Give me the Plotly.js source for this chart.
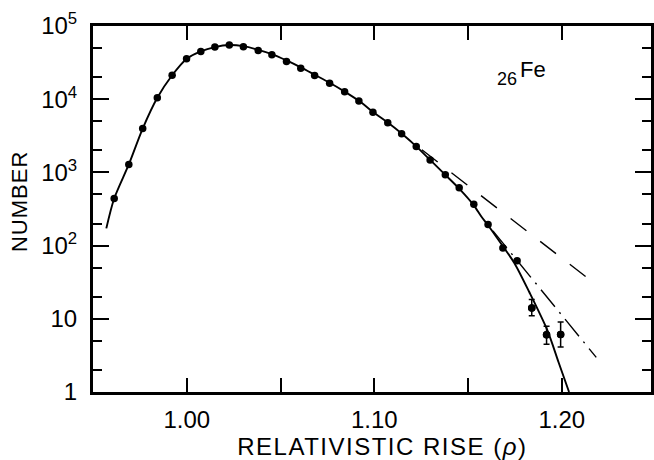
<!DOCTYPE html>
<html>
<head>
<meta charset="utf-8">
<script src="https://cdn.plot.ly/plotly-3.0.1.min.js"></script>
<style>
html,body{margin:0;padding:0;background:#fff;}
#chart{width:654px;height:460px;}
#chart g.annotation[data-index="0"] text{letter-spacing:1px;}
#chart g.annotation[data-index="1"] text{letter-spacing:1.5px;}
</style>
</head>
<body>
<div id="chart"></div>
<script>
// Measured points (relativistic rise rho, number of events)
const rho = [0.9613,0.9691,0.9765,0.9843,0.9922,0.9999,1.0075,1.0150,1.0227,1.0302,1.0381,1.0454,1.0532,1.0608,1.0682,1.0762,1.0842,1.0918,1.0993,1.1072,1.1146,1.1224,1.1298,1.1379,1.1453,1.1531,1.1607,1.1686,1.1762,1.1840,1.1919,1.1994];
const counts = [440,1285,3970,10450,21250,35700,44700,51500,55200,52000,46200,40600,32700,26400,21100,16500,12600,9460,6610,4750,3380,2260,1480,927,615,366,194,93,62,14.1,6.07,6.12];
const errUp = [0,0,0,0,0,0,0,0,0,0,0,0,0,0,0,0,0,0,0,0,0,0,0,0,0,0,0,0,0,4.2,1.83,2.9];
const errDown = [0,0,0,0,0,0,0,0,0,0,0,0,0,0,0,0,0,0,0,0,0,0,0,0,0,0,0,0,0,3.1,1.58,2.0];

// Solid fitted curve
const fitRho = [0.9571,0.9613,0.9691,0.9765,0.9843,0.9922,0.9999,1.0075,1.0150,1.0227,1.0302,1.0381,1.0454,1.0532,1.0608,1.0682,1.0762,1.0842,1.0918,1.0993,1.1072,1.1146,1.1224,1.1298,1.1379,1.1453,1.1531,1.1571,1.1607,1.1686,1.1747,1.1826,1.1923,1.1983,1.2039];
const fitCounts = [172,440,1285,3970,10450,21250,35500,45000,51500,55000,53000,47300,41300,33800,27200,21600,16800,12700,9500,6700,4800,3400,2270,1480,925,600,355,250,190,98,58,23.4,7.0,2.55,1.0];

// Dashed extrapolation
const dashRho = [1.1254,1.2129];
const dashCounts = [2035,37.5];

// Dash-dot extrapolation
const dotRho = [1.1633,1.2184];
const dotCounts = [159,2.97];

// Axis ticks
const yTickVals = [1,10,100,1000,10000,100000];
const yTickText = ["1","10","10<sup>2</sup>","10<sup>3</sup>","10<sup>4</sup>","10<sup>5</sup>"];
const yMinorVals = [2,5,20,50,200,500,2000,5000,20000,50000];
const xTickVals = [1.00,1.10,1.20];
const xTickText = ["1.00","1.10","1.20"];
const xMinorVals = [1.05,1.15];

const FONT = "Liberation Sans, Arial, Helvetica, sans-serif";

const errIdx = errUp.map((e,i)=> (e>0||errDown[i]>0) ? i : -1).filter(i=>i>=0);

const traces = [
  {x: fitRho, y: fitCounts, mode:'lines', line:{color:'#000', width:1.9, shape:'spline', smoothing:0.8}, hoverinfo:'skip'},
  {x: dashRho, y: dashCounts, mode:'lines', line:{color:'#000', width:1.4, dash:'20px,17.4px'}, hoverinfo:'skip'},
  {x: dotRho, y: dotCounts, mode:'lines', line:{color:'#000', width:1.4, dash:'22px,7px,2px,7px'}, hoverinfo:'skip'},
  {x: rho, y: counts, mode:'markers', marker:{color:'#000', size:7.5}, hoverinfo:'skip'},
  {x: errIdx.map(i=>rho[i]), y: errIdx.map(i=>counts[i]), mode:'markers',
   marker:{color:'#000', size:7.5},
   error_y:{type:'data', symmetric:false, array: errIdx.map(i=>errUp[i]), arrayminus: errIdx.map(i=>errDown[i]), color:'#000', thickness:1.5, width:3},
   hoverinfo:'skip'}
];

const layout = {
  width:654, height:460,
  margin:{l:93, r:3, t:26, b:68},
  paper_bgcolor:'#fff', plot_bgcolor:'#fff',
  showlegend:false,
  font:{family:FONT, color:'#000', size:24},
  xaxis:{
    range:[0.95,1.2476], showgrid:false, zeroline:false,
    showline:true, linewidth:3, linecolor:'#000', mirror:'ticks',
    ticks:'inside', ticklen:14, tickwidth:2, tickcolor:'#000',
    tickmode:'array', tickvals:xTickVals, ticktext:xTickText,
    minor:{ticks:'inside', ticklen:14, tickwidth:2, tickcolor:'#000', tickmode:'array', tickvals:xMinorVals, showgrid:false},
    tickfont:{family:FONT, size:24, color:'#000'},
    ticklabelstandoff:4
  },
  yaxis:{
    type:'log', range:[0,5], showgrid:false, zeroline:false,
    showline:true, linewidth:3, linecolor:'#000', mirror:'ticks',
    ticks:'inside', ticklen:16, tickwidth:2, tickcolor:'#000',
    tickmode:'array', tickvals:yTickVals, ticktext:yTickText,
    tickfont:{family:FONT, size:24, color:'#000'},
    ticklabelstandoff:8,
    minor:{ticks:'inside', ticklen:9, tickwidth:2, tickcolor:'#000', tickmode:'array', tickvals:yMinorVals, showgrid:false}
  },
  annotations:[
    {xref:'paper', yref:'paper', x:-0.1326, y:0.519, xanchor:'center', yanchor:'middle', showarrow:false, textangle:-90,
     text:'NUMBER', font:{family:FONT, size:22, color:'#000'}},
    {xref:'paper', yref:'paper', x:0.5197, y:-0.150, xanchor:'center', yanchor:'middle', showarrow:false,
     text:'RELATIVISTIC RISE (<i>ρ</i>)', font:{family:FONT, size:24, color:'#000'}},
    {xref:'paper', yref:'paper', x:0.742, y:0.855, xanchor:'center', yanchor:'middle', showarrow:false,
     text:'26', font:{family:FONT, size:18, color:'#000'}},
    {xref:'paper', yref:'paper', x:0.7885, y:0.8798, xanchor:'center', yanchor:'middle', showarrow:false,
     text:'Fe', font:{family:FONT, size:22, color:'#000'}}
  ]
};

Plotly.newPlot('chart', traces, layout, {staticPlot:true, displayModeBar:false});
</script>
</body>
</html>
